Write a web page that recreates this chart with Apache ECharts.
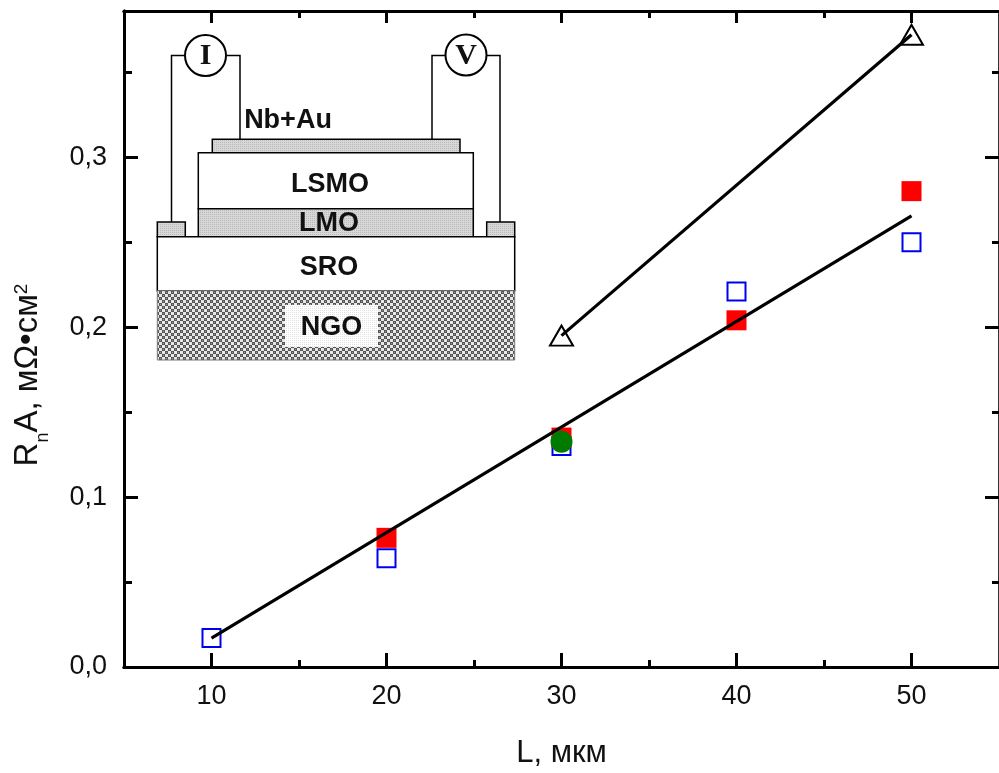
<!DOCTYPE html>
<html><head><meta charset="utf-8">
<style>html,body{margin:0;padding:0;background:#fff}#c{width:999px;height:773px}</style>
<script src="https://cdn.jsdelivr.net/npm/echarts@6/dist/echarts.min.js"></script>
</head><body><div id="c"></div>
<script>
const xMajor=[10,20,30,40,50];
const xMinor=[15,25,35,45];
const yMajor=[0,0.1,0.2,0.3];
const yMinor=[0.05,0.15,0.25,0.35];
const bluePoints=[[10,0.017],[20,0.064],[30,0.130],[40,0.221],[50,0.250]];
const redPoints=[[20,0.076],[30,0.135],[40,0.204],[50,0.280]];
const greenPoints=[[30,0.1325]];
const trianglePoints=[[30,0.195],[50,0.372]];
const fitLower=[[10,0.017],[50,0.2655]];
const fitUpper=[[30,0.195],[50,0.372]];

function pattern(size,draw){const cv=document.createElement('canvas');cv.width=cv.height=size;const g=cv.getContext('2d');draw(g);return {image:cv,repeat:'repeat'};}
const dotGray=pattern(2,g=>{g.fillStyle='#d8d8d8';g.fillRect(0,0,2,2);g.fillStyle='#b8b8b8';g.fillRect(0,0,1,1);});
const hatch=pattern(6,g=>{g.fillStyle='#e8e8e8';g.fillRect(0,0,6,6);g.fillStyle='#555';g.fillRect(0,0,3,3);g.fillRect(3,3,3,3);g.fillStyle='#999';g.fillRect(1,1,1,1);g.fillRect(4,4,1,1);});
const dotLight=pattern(2,g=>{g.fillStyle='#fff';g.fillRect(0,0,2,2);g.fillStyle='#e0e0e0';g.fillRect(0,0,1,1);});

const axisCommon={min:5,max:55,type:'value',splitLine:{show:false}};
const yCommon={min:0,max:0.386,type:'value',splitLine:{show:false}};
const lineStyle={color:'#000',width:3};
function xAxis(pos,vals,len,labels,extra){return Object.assign({},axisCommon,{position:pos,axisLine:{show:true,onZero:false,lineStyle:lineStyle},
 axisTick:{show:true,inside:true,length:len,customValues:vals,lineStyle:{color:'#000',width:3}},
 axisLabel:labels?{show:true,customValues:vals,color:'#111',fontFamily:'Liberation Sans',fontSize:27,margin:16,formatter:v=>String(v)}:{show:false}},extra||{});}
function yAxis(pos,vals,len,labels,extra){return Object.assign({},yCommon,{position:pos,axisLine:{show:true,onZero:false,lineStyle:pos==='right'?{color:'#333',width:2}:lineStyle},
 axisTick:{show:true,inside:true,length:len,customValues:vals,lineStyle:{color:'#000',width:3}},
 axisLabel:labels?{show:true,customValues:vals,color:'#111',fontFamily:'Liberation Sans',fontSize:27,margin:17,formatter:v=>v.toFixed(1).replace('.',',')}:{show:false}},extra||{});}

const F='Liberation Sans';
function box(x1,y1,x2,y2,fill){return {type:'rect',shape:{x:x1,y:y1,width:x2-x1,height:y2-y1},style:{fill:fill,stroke:'#000',lineWidth:1.5},silent:true};}
function wire(points){return {type:'polyline',shape:{points:points},style:{fill:null,stroke:'#000',lineWidth:1.5},silent:true};}
function lab(t,x,y,size,font){return {type:'text',x:x,y:y,style:{text:t,fill:'#111',font:'bold '+size+'px "'+(font||F)+'"',textAlign:'center',textVerticalAlign:'middle'},silent:true};}
function circ(x,y){return {type:'circle',shape:{cx:x,cy:y,r:20.5},style:{fill:'#fff',stroke:'#000',lineWidth:2},silent:true};}

const inset=[
 wire([[171.5,222],[171.5,55.5],[240,55.5],[240,139]]),
 wire([[432,139],[432,55.5],[500,55.5],[500,222]]),
 circ(205.5,55.5),circ(466,55),
 lab('I',205.5,56.5,30,'Liberation Serif'),lab('V',466,56,30,'Liberation Serif'),
 lab('Nb+Au',288,121,27),
 box(212.3,139.3,460,152.8,dotGray),
 box(198.3,152.8,473.3,208.7,'#fff'),
 box(198.3,208.7,473.3,236.7,dotGray),
 box(157.3,222,185.3,236.7,dotGray),
 box(486.7,222,514.7,236.7,dotGray),
 box(157.3,236.7,514.7,290.7,'#fff'),
 {type:'rect',shape:{x:157.3,y:290.7,width:357.4,height:69.3},style:{fill:hatch,stroke:'#777',lineWidth:1},silent:true},
 {type:'rect',shape:{x:285,y:305,width:93,height:42},style:{fill:dotLight},silent:true},
 lab('LSMO',330,185,27),lab('LMO',329,224,27),lab('SRO',329,268,27),lab('NGO',331.5,328,27)
];

const chart=echarts.init(document.getElementById('c'),null,{renderer:'canvas'});
chart.setOption({
 animation:false,backgroundColor:'#fff',
 grid:{left:124,right:0,top:11,bottom:106,containLabel:false,outerBoundsMode:'none'},
 xAxis:[
  xAxis('bottom',xMajor,14,true,{name:'L, мкм',nameLocation:'middle',nameGap:71,nameTextStyle:{color:'#111',fontFamily:F,fontSize:31}}),
  xAxis('bottom',xMinor,7,false),
  xAxis('top',xMajor,12,false),
  xAxis('top',xMinor,7,false)
 ],
 yAxis:[
  yAxis('left',yMajor,14,true,{name:'{b|R}{s|n}{b|A, мΩ•см}{u|2}',nameLocation:'middle',nameGap:69,nameRotate:90,
    nameTextStyle:{padding:[0,72,0,0],rich:{b:{fontFamily:F,fontSize:33,color:'#111',lineHeight:54},s:{fontFamily:F,fontSize:18,color:'#111',verticalAlign:'bottom',lineHeight:18,padding:[0,0,3,0]},u:{fontFamily:F,fontSize:19,color:'#111',verticalAlign:'top',lineHeight:19,padding:[11,0,0,0]}}}}),
  yAxis('left',yMinor,8,false),
  yAxis('right',yMajor,14,false),
  yAxis('right',yMinor,7,false)
 ],
 series:[
  {name:'blue',type:'scatter',data:bluePoints,symbol:'rect',symbolSize:18,itemStyle:{color:'#fff',borderColor:'#0000f0',borderWidth:2,opacity:1},z:2},
  {name:'red',type:'scatter',data:redPoints,symbol:'rect',symbolSize:20,itemStyle:{color:'#ff0000',opacity:1},z:3},
  {name:'fit lower',type:'line',data:fitLower,symbol:'none',lineStyle:{color:'#000',width:3.2},z:4},
  {name:'fit upper',type:'line',data:fitUpper,symbol:'none',lineStyle:{color:'#000',width:3.2},z:4},
  {name:'triangle',type:'scatter',data:trianglePoints,symbol:'triangle',symbolSize:[23,20],itemStyle:{color:'rgba(0,0,0,0)',borderColor:'#000',borderWidth:2,opacity:1},z:5},
  {name:'green',type:'scatter',data:greenPoints,symbol:'circle',symbolSize:22,itemStyle:{color:'#007a00',opacity:1},z:5}
 ],
 graphic:{elements:inset}
});
</script></body></html>
